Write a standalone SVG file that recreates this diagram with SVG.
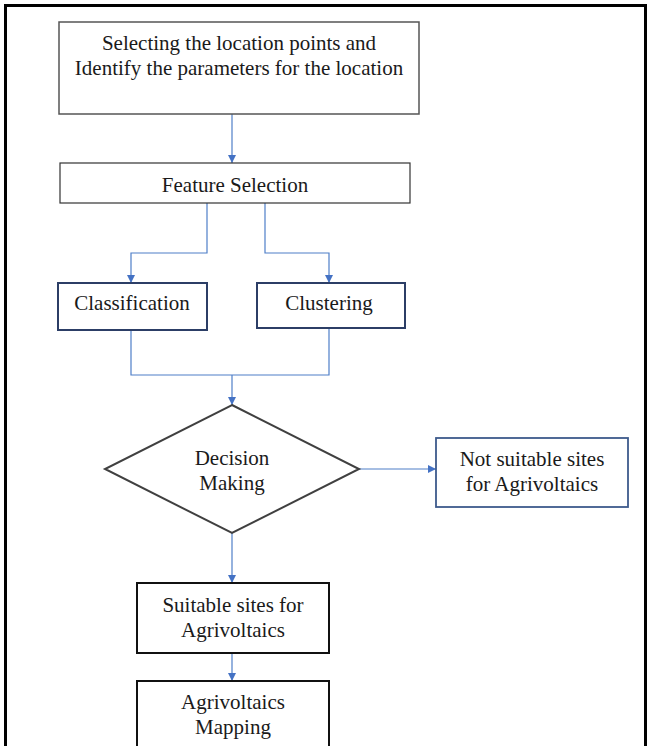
<svg xmlns="http://www.w3.org/2000/svg" width="650" height="746" viewBox="0 0 650 746" font-family="'Liberation Serif', 'Times New Roman', serif">
  <style>
    .lbl { font-family: 'Liberation Serif', 'Times New Roman', serif; font-size: 21px; fill: #1a1a1a; text-anchor: middle; }
    .conn { fill: none; stroke: #4f7fc8; stroke-width: 1.2; }
    .box { fill: #ffffff; }
  </style>
  <defs>
    <marker id="arrow" viewBox="0 0 10 10" refX="10" refY="5" markerWidth="8" markerHeight="8" markerUnits="userSpaceOnUse" orient="auto">
      <path d="M0,0 L10,5 L0,10 z" fill="#4472c4"/>
    </marker>
  </defs>

  <rect width="650" height="746" fill="#ffffff"/>
  <!-- page frame -->
  <path d="M5.5,746 V5.5 H645.5 V746" fill="none" stroke="#000" stroke-width="3"/>

  <g id="connectors">
    <path class="conn" d="M232,114 V163" marker-end="url(#arrow)"/>
    <path class="conn" d="M207,203 V253 H131 V283" marker-end="url(#arrow)"/>
    <path class="conn" d="M265,203 V253 H329 V283" marker-end="url(#arrow)"/>
    <path class="conn" d="M131,330 V375 H329 V328"/>
    <path class="conn" d="M232,375 V405" marker-end="url(#arrow)"/>
    <path class="conn" d="M359,469 H436" marker-end="url(#arrow)"/>
    <path class="conn" d="M232,533 V583" marker-end="url(#arrow)"/>
    <path class="conn" d="M232,653 V681" marker-end="url(#arrow)"/>
  </g>

  <g id="select-location">
    <rect class="box" x="59" y="22" width="360" height="92" stroke="#555" stroke-width="1.5"/>
    <text class="lbl" x="239" y="50">Selecting the location points and</text>
    <text class="lbl" x="239" y="75">Identify the parameters for the location</text>
  </g>

  <g id="feature-selection">
    <rect class="box" x="60" y="163" width="350" height="40" stroke="#333" stroke-width="1.2"/>
    <text class="lbl" x="235" y="192">Feature Selection</text>
  </g>

  <g id="classification">
    <rect class="box" x="58" y="283" width="149" height="47" stroke="#2c3e66" stroke-width="2"/>
    <text class="lbl" x="132" y="310">Classification</text>
  </g>

  <g id="clustering">
    <rect class="box" x="257" y="283" width="148" height="45" stroke="#2c3e66" stroke-width="2"/>
    <text class="lbl" x="329" y="310">Clustering</text>
  </g>

  <g id="decision-making">
    <polygon points="232,405 359,469 232,533 105,469" fill="#ffffff" stroke="#404040" stroke-width="2"/>
    <text class="lbl" x="232" y="465">Decision</text>
    <text class="lbl" x="232" y="490">Making</text>
  </g>

  <g id="not-suitable">
    <rect class="box" x="436" y="438" width="192" height="69" stroke="#3d5a8c" stroke-width="1.8"/>
    <text class="lbl" x="532" y="466">Not suitable sites</text>
    <text class="lbl" x="532" y="491">for Agrivoltaics</text>
  </g>

  <g id="suitable">
    <rect class="box" x="137" y="583" width="192" height="70" stroke="#111" stroke-width="2"/>
    <text class="lbl" x="233" y="612">Suitable sites for</text>
    <text class="lbl" x="233" y="637">Agrivoltaics</text>
  </g>

  <g id="mapping">
    <rect class="box" x="137" y="681" width="192" height="75" stroke="#111" stroke-width="2"/>
    <text class="lbl" x="233" y="709">Agrivoltaics</text>
    <text class="lbl" x="233" y="734">Mapping</text>
  </g>
</svg>
